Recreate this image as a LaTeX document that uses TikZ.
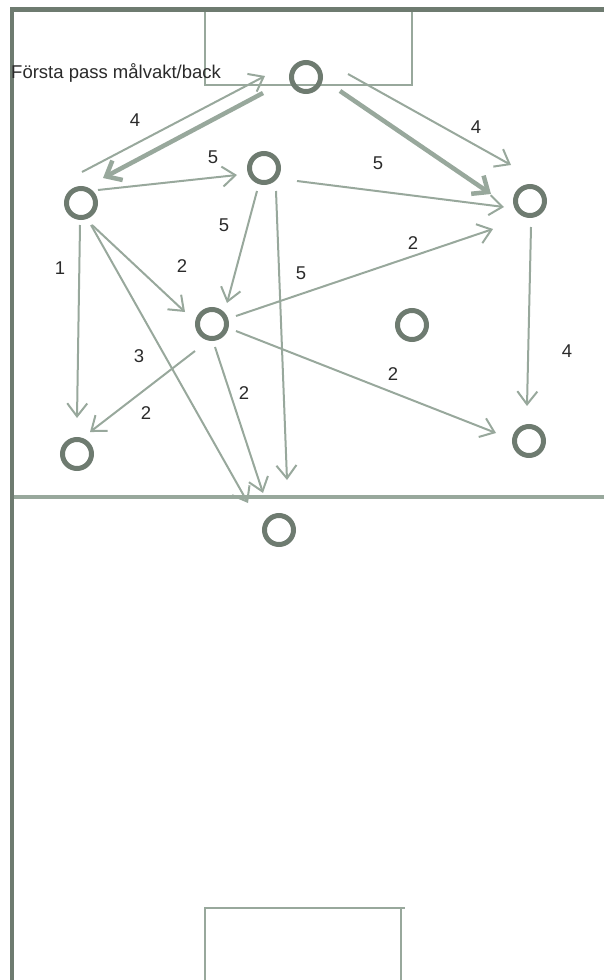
\documentclass[tikz,border=0pt]{standalone}
\usepackage{fontspec}
\setmainfont{Liberation Sans}
\usetikzlibrary{arrows.meta}
\definecolor{darkline}{HTML}{6E7B70}
\definecolor{lightline}{HTML}{98A89C}
\definecolor{txt}{HTML}{2A2A2A}
\tikzset{
  player/.style={circle, draw=darkline, line width=5pt, minimum size=29pt, inner sep=0pt},
  pass/.style={draw=lightline, line width=2pt, -{Straight Barb[length=13pt,width=20pt,line width=2pt]}},
  bigpass/.style={draw=lightline, line width=4.5pt, -{Straight Barb[length=13pt,width=22pt,line width=4.5pt]}},
  num/.style={text=txt, font=\fontsize{18.5}{20}\selectfont, inner sep=0pt},
  fieldline/.style={draw=darkline, line width=4.5pt},
  markline/.style={draw=lightline, line width=2pt},
}
\begin{document}
\begin{tikzpicture}[x=1pt,y=-1pt]
\useasboundingbox (0,0) rectangle (604,980);
% field
\draw[markline] (205,10) -- (205,85) -- (412,85) -- (412,10);
\draw[markline] (205,980) -- (205,908) -- (405,908);
\draw[markline] (401,908) -- (401,980);
\draw[draw=lightline, line width=4pt] (12,497) -- (604,497);
\draw[fieldline] (12,980) -- (12,9.5) -- (604,9.5);
% players
\node[player] (gk) at (306,77) {};
\node[player] (lb) at (81,203) {};
\node[player] (mt) at (264,168) {};
\node[player] (rt) at (530,201) {};
\node[player] (ce) at (212,324) {};
\node[player] (rc) at (412,325) {};
\node[player] (bl) at (77,454) {};
\node[player] (br) at (529,441) {};
\node[player] (bm) at (279,530) {};
% title
\node[num, anchor=base west] (title) at (11,78) {Första pass målvakt/back};
% endpoints
\coordinate (a1s) at (82,172);  \coordinate (a1e) at (265,76);
\coordinate (a2s) at (263,93);  \coordinate (a2e) at (103,178);
\coordinate (a3s) at (98,190);  \coordinate (a3e) at (237,175);
\coordinate (a4s) at (348,74);  \coordinate (a4e) at (511,165);
\coordinate (a5s) at (340,91);  \coordinate (a5e) at (491,194);
\coordinate (a6s) at (297,181); \coordinate (a6e) at (504,207);
\coordinate (a7s) at (236,316); \coordinate (a7e) at (493,229);
\coordinate (a8s) at (257,191); \coordinate (a8e) at (227,303);
\coordinate (a9s) at (276,191); \coordinate (a9e) at (287,480);
\coordinate (a10s) at (92,225); \coordinate (a10e) at (185,312);
\coordinate (a11s) at (80,225); \coordinate (a11e) at (77,418);
\coordinate (a12s) at (91,225); \coordinate (a12e) at (248,503);
\coordinate (a13s) at (195,351); \coordinate (a13e) at (90,432);
\coordinate (a14s) at (215,347); \coordinate (a14e) at (263,493);
\coordinate (a15s) at (236,331); \coordinate (a15e) at (496,433);
\coordinate (a16s) at (531,227); \coordinate (a16e) at (527,406);
% passes
\draw[pass] (a1s) -- (a1e);
\draw[bigpass] (a2s) -- (a2e);
\draw[pass] (a3s) -- (a3e);
\draw[pass] (a4s) -- (a4e);
\draw[bigpass] (a5s) -- (a5e);
\draw[pass] (a6s) -- (a6e);
\draw[pass] (a7s) -- (a7e);
\draw[pass] (a8s) -- (a8e);
\draw[pass] (a9s) -- (a9e);
\draw[pass] (a10s) -- (a10e);
\draw[pass] (a11s) -- (a11e);
\draw[pass] (a12s) -- (a12e);
\draw[pass] (a13s) -- (a13e);
\draw[pass] (a14s) -- (a14e);
\draw[pass] (a15s) -- (a15e);
\draw[pass] (a16s) -- (a16e);
% labels
\node[num] (l1) at (135,120) {4};
\node[num] (l3) at (213,157) {5};
\node[num] (l4) at (476,127) {4};
\node[num] (l6) at (378,163) {5};
\node[num] (l7) at (413,243) {2};
\node[num] (l8) at (224,225) {5};
\node[num] (l9) at (301,273) {5};
\node[num] (l10) at (182,266) {2};
\node[num] (l11) at (60,268) {1};
\node[num] (l12) at (139,356) {3};
\node[num] (l13) at (146,413) {2};
\node[num] (l14) at (244,393) {2};
\node[num] (l15) at (393,374) {2};
\node[num] (l16) at (567,351) {4};
\end{tikzpicture}
\end{document}
